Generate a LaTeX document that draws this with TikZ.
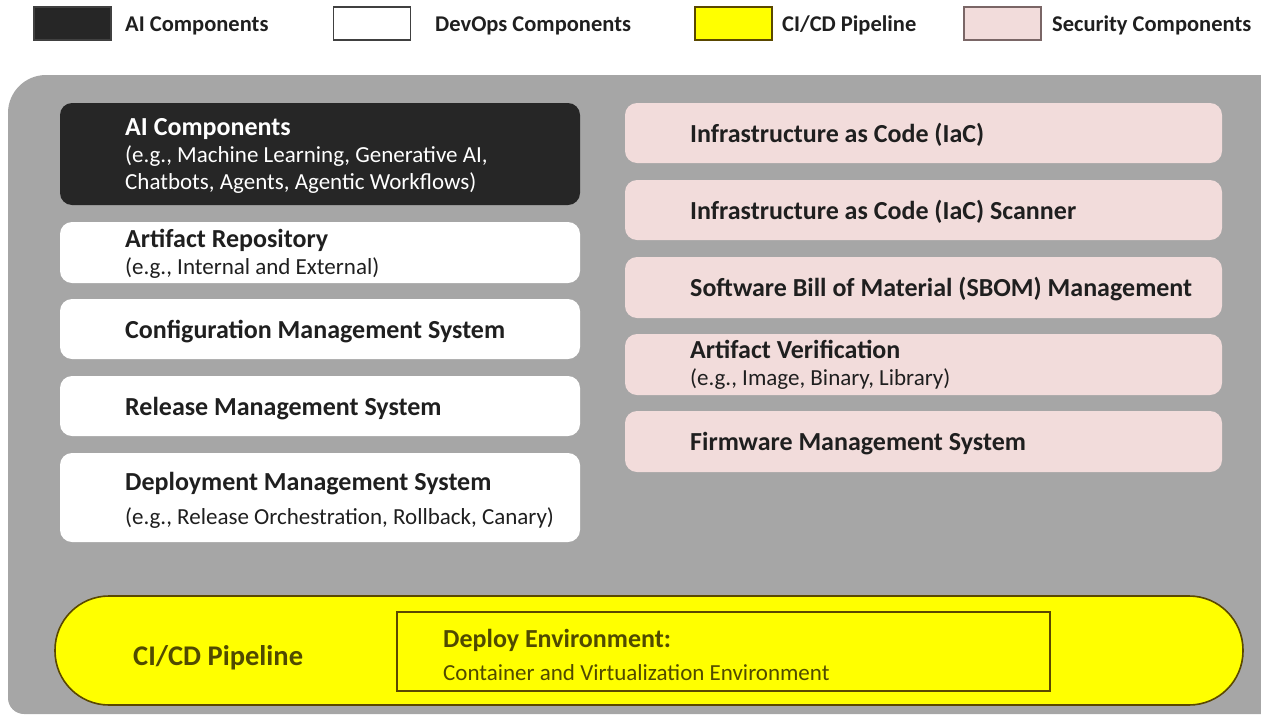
\documentclass[tikz,border=0pt]{standalone}
\usepackage{fontspec}
\setmainfont{Carlito}
\definecolor{panel}{HTML}{A6A6A6}
\definecolor{aifill}{HTML}{262626}
\definecolor{secfill}{HTML}{F2DCDB}
\definecolor{olivetxt}{RGB}{80,74,0}
\definecolor{oliveline}{RGB}{90,72,0}
\definecolor{txt}{HTML}{1F1F1F}
\definecolor{legline}{HTML}{404040}
\definecolor{pinkline}{HTML}{7A6666}
\definecolor{pipeyellow}{HTML}{FFFF00}
\begin{document}
\begin{tikzpicture}[x=1pt,y=-1pt,
  comp/.style={rounded corners=12pt, inner sep=0pt, minimum width=520pt},
  sec/.style={rounded corners=12pt, inner sep=0pt, minimum width=597pt, fill=secfill},
  ttl/.style={font=\fontsize{26}{31}\selectfont\bfseries, text=txt, inner sep=0pt, anchor=base west},
  sub/.style={font=\fontsize{23}{28}\selectfont, text=txt, inner sep=0pt, anchor=base west},
  legbox/.style={minimum width=77pt, minimum height=33pt, inner sep=0pt, line width=1.2pt},
  legtxt/.style={font=\fontsize{22.5}{27}\selectfont\bfseries, text=txt, inner sep=0pt, anchor=base west}
]
\useasboundingbox (0,0) rectangle (1261,718);
% legend
\node[legbox, fill=aifill, draw=legline] (lg1) at (72.5,23.5) {};
\node[legtxt] (lt1) at (125,31) {AI Components};
\node[legbox, fill=white, draw=legline] (lg2) at (372,23.5) {};
\node[legtxt] (lt2) at (435,31) {DevOps Components};
\node[legbox, fill=pipeyellow, draw=oliveline] (lg3) at (733.5,23.5) {};
\node[legtxt] (lt3) at (782,31) {CI/CD Pipeline};
\node[legbox, fill=secfill, draw=pinkline] (lg4) at (1002.5,23.5) {};
\node[legtxt] (lt4) at (1052,31) {Security Components};
% panel
\fill[panel, rounded corners=38pt] (8,75) rectangle (1320,420);
\fill[panel, rounded corners=16pt] (8,300) rectangle (1320,714);
% left column
\node[comp, fill=aifill, minimum height=102pt] (ai) at (320,154) {};
\node[ttl, text=white] (aiT) at (125,135) {AI Components};
\node[sub, text=white] (aiS1) at (125,162) {(e.g., Machine Learning, Generative AI,};
\node[sub, text=white] (aiS2) at (125,189) {Chatbots, Agents, Agentic Workflows)};
\node[comp, fill=white, minimum height=61pt] (art) at (320,252.5) {};
\node[ttl] (artT) at (125,247) {Artifact Repository};
\node[sub] (artS) at (125,274) {(e.g., Internal and External)};
\node[comp, fill=white, minimum height=60pt] (cfg) at (320,329) {};
\node[ttl] (cfgT) at (125,338) {Configuration Management System};
\node[comp, fill=white, minimum height=60pt] (rel) at (320,406) {};
\node[ttl] (relT) at (125,415) {Release Management System};
\node[comp, fill=white, minimum height=89pt] (dep) at (320,497.5) {};
\node[ttl] (depT) at (125,490) {Deployment Management System};
\node[sub] (depS) at (125,524) {(e.g., Release Orchestration, Rollback, Canary)};
% right column
\node[sec, minimum height=60pt] (iac) at (923.5,133) {};
\node[ttl] (iacT) at (690,142) {Infrastructure as Code (IaC)};
\node[sec, minimum height=60pt] (scan) at (923.5,210) {};
\node[ttl] (scanT) at (690,219) {Infrastructure as Code (IaC) Scanner};
\node[sec, minimum height=61pt] (sbom) at (923.5,287.5) {};
\node[ttl] (sbomT) at (690,296) {Software Bill of Material (SBOM) Management};
\node[sec, minimum height=61pt] (ver) at (923.5,364.5) {};
\node[ttl] (verT) at (690,358) {Artifact Verification};
\node[sub] (verS) at (690,385) {(e.g., Image, Binary, Library)};
\node[sec, minimum height=61pt] (fw) at (923.5,441.5) {};
\node[ttl] (fwT) at (690,450) {Firmware Management System};
% pipeline
\node[fill=pipeyellow, draw=oliveline, line width=1.6pt, rounded corners=54pt, minimum width=1188pt, minimum height=109pt, inner sep=0pt] (pipe) at (649,650.5) {};
\node[ttl, text=olivetxt, font=\fontsize{28.5}{34}\selectfont\bfseries] (pipeT) at (133,665) {CI/CD Pipeline};
\node[draw=oliveline, line width=1.6pt, minimum width=653pt, minimum height=79pt, inner sep=0pt] (env) at (723.5,651.5) {};
\node[ttl, text=olivetxt] (envT) at (443,647) {Deploy Environment:};
\node[sub, text=olivetxt] (envS) at (443,680) {Container and Virtualization Environment};
\end{tikzpicture}
\end{document}
